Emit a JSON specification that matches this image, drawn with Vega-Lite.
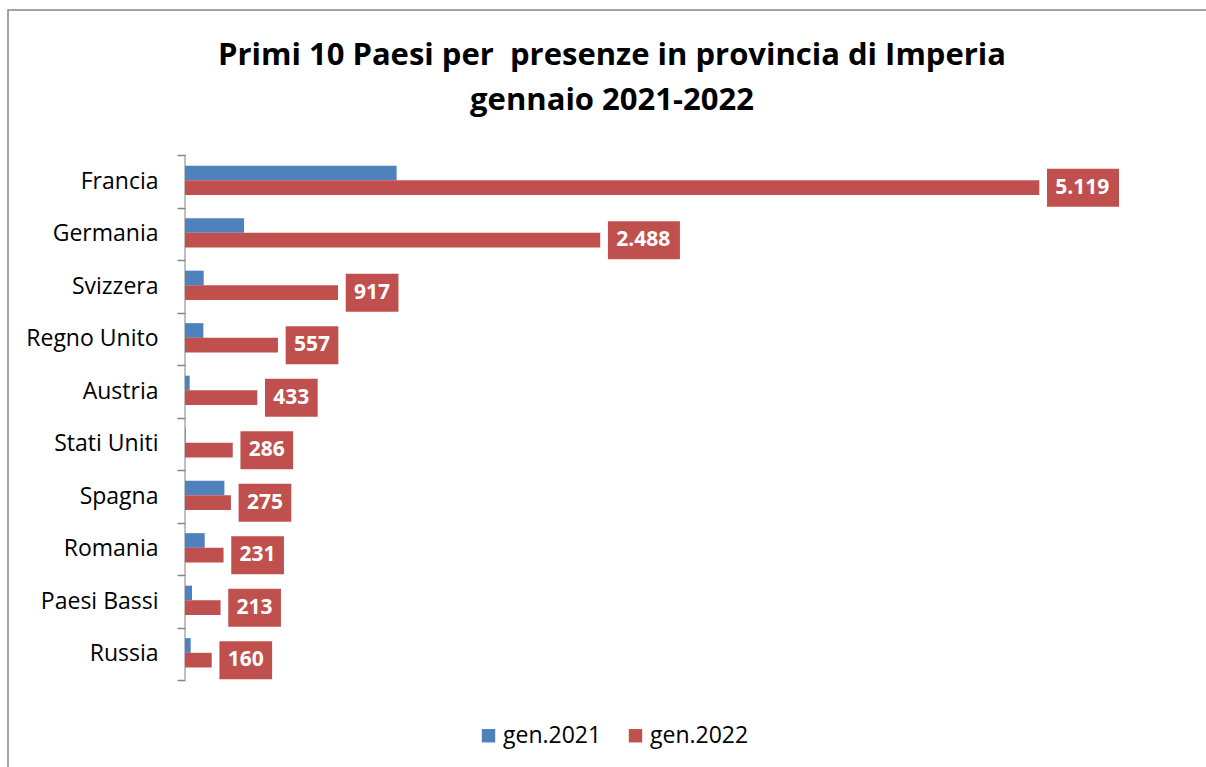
{
  "$schema": "https://vega.github.io/schema/vega-lite/v6.json",
  "width": 1204,
  "height": 763,
  "autosize": {"type": "none"},
  "padding": {"left": 8, "top": 10, "right": -6, "bottom": -6},
  "background": "white",
  "config": {
    "font": "Open Sans",
    "locale": {"number": {"decimal": ",", "thousands": ".", "grouping": [3], "currency": ["€", ""]}},
    "view": {"stroke": "#868686", "strokeWidth": 1.5}
  },
  "title": {
    "text": ["Primi 10 Paesi per \u00a0presenze in provincia di Imperia", "gennaio 2021-2022"],
    "fontSize": 31,
    "fontWeight": "bold",
    "font": "Open Sans",
    "color": "black",
    "lineHeight": 45,
    "anchor": "middle",
    "frame": "group",
    "offset": -118,
    "dx": 2
  },
  "data": {
    "values": [
      {"paese": "Francia", "anno": "gen.2021", "presenze": 1268},
      {"paese": "Francia", "anno": "gen.2022", "presenze": 5119},
      {"paese": "Germania", "anno": "gen.2021", "presenze": 354},
      {"paese": "Germania", "anno": "gen.2022", "presenze": 2488},
      {"paese": "Svizzera", "anno": "gen.2021", "presenze": 112},
      {"paese": "Svizzera", "anno": "gen.2022", "presenze": 917},
      {"paese": "Regno Unito", "anno": "gen.2021", "presenze": 110},
      {"paese": "Regno Unito", "anno": "gen.2022", "presenze": 557},
      {"paese": "Austria", "anno": "gen.2021", "presenze": 28},
      {"paese": "Austria", "anno": "gen.2022", "presenze": 433},
      {"paese": "Stati Uniti", "anno": "gen.2021", "presenze": 4},
      {"paese": "Stati Uniti", "anno": "gen.2022", "presenze": 286},
      {"paese": "Spagna", "anno": "gen.2021", "presenze": 236},
      {"paese": "Spagna", "anno": "gen.2022", "presenze": 275},
      {"paese": "Romania", "anno": "gen.2021", "presenze": 118},
      {"paese": "Romania", "anno": "gen.2022", "presenze": 231},
      {"paese": "Paesi Bassi", "anno": "gen.2021", "presenze": 42},
      {"paese": "Paesi Bassi", "anno": "gen.2022", "presenze": 213},
      {"paese": "Russia", "anno": "gen.2021", "presenze": 34},
      {"paese": "Russia", "anno": "gen.2022", "presenze": 160}
    ]
  },
  "encoding": {
    "y": {
      "field": "paese",
      "type": "nominal",
      "sort": ["Francia", "Germania", "Svizzera", "Regno Unito", "Austria", "Stati Uniti", "Spagna", "Romania", "Paesi Bassi", "Russia"],
      "scale": {"paddingInner": 0, "paddingOuter": 0, "range": [145, 670], "round": false},
      "axis": {
        "orient": "left",
        "offset": -177,
        "domain": false,
        "tickBand": "extent",
        "tickSize": 8,
        "tickColor": "#868686",
        "tickWidth": 1.5,
        "labelFont": "Open Sans",
        "labelFontSize": 23,
        "labelColor": "black",
        "labelPadding": 19,
        "title": null
      }
    }
  },
  "layer": [
    {
      "transform": [{"filter": "datum.anno == 'gen.2022'"}],
      "mark": {"type": "tick", "color": "#868686", "thickness": 1.5, "size": 52.5, "orient": "vertical"},
      "encoding": {
        "x": {"datum": 0, "type": "quantitative", "scale": {"domain": [-1060.6, 6153.7], "nice": false, "zero": false}, "axis": null}
      }
    },
    {
      "mark": {"type": "bar"},
      "encoding": {
        "x": {"field": "presenze", "type": "quantitative", "axis": null},
        "x2": {"datum": 0},
        "yOffset": {"field": "anno", "type": "nominal", "sort": ["gen.2021", "gen.2022"], "scale": {"paddingInner": 0, "paddingOuter": 0.79, "align": 0.46}},
        "color": {
          "field": "anno",
          "type": "nominal",
          "scale": {"domain": ["gen.2021", "gen.2022"], "range": ["#4F81BD", "#C0504D"]},
          "legend": {
            "orient": "none",
            "legendX": 469,
            "legendY": 714,
            "direction": "horizontal",
            "title": null,
            "symbolType": "square",
            "symbolSize": 180,
            "symbolStrokeWidth": 0,
            "labelFont": "Open Sans",
            "labelFontSize": 23,
            "labelColor": "black",
            "labelOffset": 3,
            "columnPadding": 22,
            "padding": 0
          }
        }
      }
    },
    {
      "transform": [{"filter": "datum.anno == 'gen.2022'"}],
      "mark": {"type": "point", "filled": true, "size": 4, "opacity": 1, "color": "#C0504D", "strokeWidth": 0},
      "encoding": {
        "x": {"field": "presenze", "type": "quantitative", "axis": null},
        "yOffset": {"field": "anno", "type": "nominal", "sort": ["gen.2021", "gen.2022"]},
        "shape": {
          "condition": {"test": "datum.presenze >= 1000", "value": "M7.7,-19H79.7V19H7.7Z"},
          "value": "M7.7,-19H60.4V19H7.7Z"
        }
      }
    },
    {
      "transform": [{"filter": "datum.anno == 'gen.2022'"}],
      "mark": {"type": "text", "align": "left", "baseline": "middle", "dx": 16, "dy": 0, "font": "Open Sans", "fontSize": 21, "fontWeight": "bold", "color": "white"},
      "encoding": {
        "x": {"field": "presenze", "type": "quantitative", "axis": null},
        "yOffset": {"field": "anno", "type": "nominal", "sort": ["gen.2021", "gen.2022"]},
        "text": {"field": "presenze", "type": "quantitative", "format": ",d"}
      }
    }
  ]
}
